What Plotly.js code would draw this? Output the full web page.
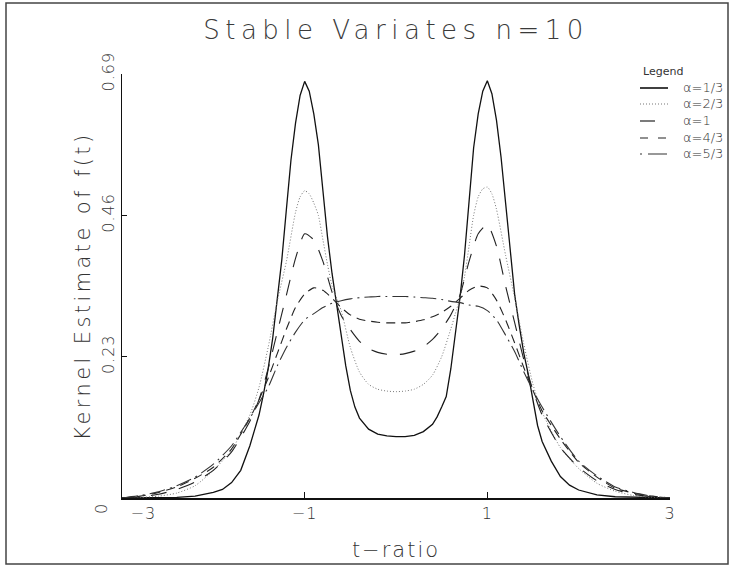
<!DOCTYPE html>
<html>
<head>
<meta charset="utf-8">
<script src="https://cdn.plot.ly/plotly-3.0.1.min.js"></script>
<style>
html,body{margin:0;padding:0;background:#fff;}
#chart{width:731px;height:569px;}
#chart .gtitle{letter-spacing:5.5px;}
#chart .g-ytitle text{letter-spacing:3.4px;}
#chart .g-xtitle text{letter-spacing:2px;}
#chart .xtick text, #chart .ytick text{letter-spacing:1px;}
</style>
</head>
<body>
<div id="chart"></div>
<script>
// ---- data ----
var seriesNames = ["α=1/3", "α=2/3", "α=1", "α=4/3", "α=5/3"];

var tA13 = [-3.0,-2.6,-2.4,-2.2,-2.0,-1.9,-1.8,-1.7,-1.6,-1.55,-1.5,-1.45,-1.4,-1.35,-1.3,-1.25,-1.2,-1.15,-1.1,-1.05,-1.0,-0.95,-0.9,-0.85,-0.8,-0.75,-0.7,-0.65,-0.6,-0.55,-0.5,-0.45,-0.4,-0.3,-0.2,-0.1,0.0,0.1,0.2,0.3,0.4,0.45,0.5,0.55,0.6,0.65,0.7,0.75,0.8,0.85,0.9,0.95,1.0,1.05,1.1,1.15,1.2,1.25,1.3,1.35,1.4,1.45,1.5,1.55,1.6,1.7,1.8,1.9,2.0,2.2,2.4,2.6,3.0];
var vA13 = [0.000,0.000,0.001,0.003,0.009,0.014,0.025,0.045,0.085,0.110,0.135,0.170,0.210,0.260,0.320,0.388,0.470,0.550,0.610,0.655,0.678,0.662,0.625,0.575,0.500,0.425,0.365,0.315,0.262,0.215,0.175,0.148,0.130,0.112,0.104,0.101,0.100,0.100,0.102,0.108,0.120,0.132,0.148,0.165,0.210,0.265,0.325,0.395,0.480,0.570,0.625,0.662,0.679,0.658,0.615,0.555,0.480,0.400,0.330,0.280,0.235,0.200,0.160,0.118,0.092,0.060,0.035,0.021,0.013,0.005,0.002,0.001,0.000];

var tA23 = [-3.0,-2.8,-2.6,-2.4,-2.2,-2.0,-1.8,-1.6,-1.5,-1.4,-1.3,-1.2,-1.1,-1.05,-1.0,-0.95,-0.9,-0.85,-0.8,-0.75,-0.7,-0.65,-0.6,-0.5,-0.4,-0.3,-0.2,-0.1,0.0,0.1,0.2,0.3,0.4,0.5,0.6,0.65,0.7,0.75,0.8,0.85,0.9,0.95,1.0,1.05,1.1,1.2,1.3,1.4,1.5,1.6,1.8,2.0,2.2,2.4,2.6,2.8,3.0];
var vA23 = [0.000,0.001,0.003,0.008,0.020,0.045,0.078,0.135,0.180,0.245,0.320,0.385,0.465,0.490,0.500,0.495,0.480,0.460,0.420,0.380,0.345,0.325,0.305,0.245,0.205,0.185,0.177,0.174,0.173,0.174,0.177,0.185,0.200,0.230,0.275,0.300,0.325,0.360,0.410,0.460,0.490,0.503,0.506,0.495,0.470,0.395,0.325,0.250,0.185,0.140,0.082,0.048,0.024,0.011,0.004,0.001,0.000];

var tA1 = [-3.0,-2.8,-2.6,-2.4,-2.2,-2.0,-1.8,-1.6,-1.5,-1.4,-1.3,-1.2,-1.1,-1.0,-0.9,-0.8,-0.7,-0.6,-0.5,-0.4,-0.3,-0.2,-0.1,0.0,0.1,0.2,0.3,0.4,0.5,0.6,0.7,0.8,0.9,1.0,1.1,1.2,1.3,1.4,1.5,1.6,1.8,2.0,2.2,2.4,2.6,2.8,3.0];
var vA1 = [0.000,0.002,0.006,0.014,0.026,0.045,0.075,0.125,0.160,0.210,0.270,0.330,0.390,0.430,0.420,0.385,0.335,0.297,0.274,0.255,0.243,0.237,0.234,0.233,0.235,0.239,0.246,0.258,0.275,0.298,0.330,0.385,0.430,0.445,0.410,0.345,0.285,0.225,0.175,0.135,0.082,0.050,0.028,0.014,0.006,0.002,0.000];

var tA43 = [-3.0,-2.8,-2.6,-2.4,-2.2,-2.0,-1.8,-1.6,-1.5,-1.4,-1.3,-1.2,-1.1,-1.0,-0.9,-0.8,-0.7,-0.6,-0.5,-0.4,-0.3,-0.2,-0.1,0.0,0.1,0.2,0.3,0.4,0.5,0.6,0.7,0.8,0.9,1.0,1.1,1.2,1.3,1.4,1.5,1.6,1.8,2.0,2.2,2.4,2.6,2.8,3.0];
var vA43 = [0.000,0.003,0.009,0.018,0.032,0.050,0.080,0.130,0.160,0.195,0.235,0.275,0.310,0.332,0.342,0.338,0.325,0.310,0.298,0.291,0.288,0.286,0.285,0.285,0.285,0.287,0.290,0.295,0.302,0.312,0.325,0.338,0.345,0.342,0.322,0.290,0.252,0.212,0.175,0.142,0.096,0.058,0.034,0.016,0.008,0.003,0.000];

var tA53 = [-3.0,-2.8,-2.6,-2.4,-2.2,-2.0,-1.8,-1.6,-1.5,-1.4,-1.3,-1.2,-1.1,-1.0,-0.9,-0.8,-0.7,-0.6,-0.5,-0.4,-0.3,-0.2,-0.1,0.0,0.1,0.2,0.3,0.4,0.5,0.6,0.7,0.8,0.9,1.0,1.1,1.2,1.3,1.4,1.5,1.6,1.8,2.0,2.2,2.4,2.6,2.8,3.0];
var vA53 = [0.000,0.004,0.010,0.020,0.034,0.055,0.085,0.130,0.155,0.180,0.215,0.245,0.270,0.290,0.300,0.310,0.317,0.321,0.324,0.326,0.327,0.328,0.328,0.328,0.328,0.327,0.326,0.325,0.323,0.320,0.318,0.314,0.312,0.305,0.290,0.265,0.238,0.205,0.175,0.148,0.100,0.060,0.036,0.018,0.009,0.003,0.000];

var xTickVals = [-3, -1, 1, 3];
var xTickText = ["\u00a0\u00a0\u00a0\u00a0\u00a0\u00a0\u00a0\u22123", "\u22121", "1", "3"];
var yTickVals = [0.23, 0.46, 0.69];
var yTickText = ["0.23", "0.46", "0.69"];
var yZeroLabel = "0";
var legendTitle = "Legend";

// ---- styling ----
var FONT = "DejaVu Sans, sans-serif";
var ink = "#333";
var xs = [tA13, tA23, tA1, tA43, tA53];
var vs = [vA13, vA23, vA1, vA43, vA53];
var dashes = ["solid", "1px,2px", "16px,13px", "9px,6px", "16px,5px,2px,5px"];
var keyDashes = ["solid", "1px,2px", "15px,20px", "8px,10px", "2px,6px,19px,10px"];
var colors = ["#111", "#777", "#222", "#222", "#333"];
var widths = [1.3, 1, 1.1, 1.1, 1.1];

var traces = seriesNames.map(function (name, i) {
  return {
    x: xs[i], y: vs[i], name: name, type: "scatter", mode: "lines", showlegend: false,
    line: {color: colors[i], width: widths[i], dash: dashes[i], shape: i === 0 ? "linear" : "spline", smoothing: 0.6},
    hoverinfo: "skip"
  };
});

var L = 122, R = 670, T = 74, B = 498, W = 731, H = 569;
function px2x(p) { return (p - L) / (R - L); }
function px2y(p) { return (B - p) / (B - T); }

// legend key (drawn as a panel in the top-right corner)
var keyRows = [87, 103, 120, 137, 153];
var annotations = [
  {text: yZeroLabel, xref: "paper", yref: "paper", x: px2x(101), y: px2y(509),
   xanchor: "center", yanchor: "middle",
   showarrow: false, textangle: -90, font: {family: FONT, size: 16, color: ink, weight: 300}},
  {text: legendTitle, xref: "paper", yref: "paper", x: px2x(641), y: px2y(72),
   xanchor: "left", yanchor: "middle", showarrow: false,
   font: {family: FONT, size: 11, color: ink}}
];
var shapes = [
  {type: "rect", xref: "paper", yref: "paper", x0: px2x(6), x1: px2x(728), y0: px2y(564), y1: px2y(3),
   line: {color: "#444", width: 1.5}, fillcolor: "rgba(0,0,0,0)", layer: "below"}
];
seriesNames.forEach(function (name, i) {
  annotations.push({text: name, xref: "paper", yref: "paper", x: px2x(681), y: px2y(keyRows[i]),
    xanchor: "left", yanchor: "middle", showarrow: false,
    font: {family: FONT, size: 13, color: ink, weight: 300}});
  shapes.push({type: "line", xref: "paper", yref: "paper", x0: px2x(640), x1: px2x(668),
    y0: px2y(keyRows[i] + 1), y1: px2y(keyRows[i] + 1),
    line: {color: colors[i], width: i === 0 ? 1.6 : 1.2, dash: keyDashes[i]}});
});

var layout = {
  width: W, height: H,
  margin: {l: L, r: W - R, t: T, b: H - B, pad: 0},
  paper_bgcolor: "#fff", plot_bgcolor: "#fff",
  font: {family: FONT, color: ink},
  showlegend: false,
  title: {text: "Stable Variates n=10", font: {family: FONT, size: 26, color: "#3a3a3a", weight: 300},
          xref: "paper", x: 0.5, xanchor: "center", yref: "container", y: 1 - 30 / H, yanchor: "middle"},
  xaxis: {
    range: [-3, 3], showgrid: false, zeroline: false,
    showline: true, linecolor: "#111", linewidth: 1.5,
    ticks: "inside", ticklen: 6, tickcolor: "#111", tickwidth: 1,
    tickvals: xTickVals, ticktext: xTickText,
    tickfont: {family: FONT, size: 16, color: ink, weight: 300},
    title: {text: "t\u2212ratio", font: {family: FONT, size: 21, color: ink, weight: 300}, standoff: 20}
  },
  yaxis: {
    range: [0, 0.69], showgrid: false, zeroline: false,
    showline: true, linecolor: "#111", linewidth: 1.5,
    ticks: "inside", ticklen: 5, tickcolor: "#111", tickwidth: 1,
    tickvals: yTickVals, ticktext: yTickText, tickangle: -90,
    tickfont: {family: FONT, size: 16, color: ink, weight: 300},
    title: {text: "Kernel Estimate of f(t)", font: {family: FONT, size: 21, color: ink, weight: 300}, standoff: 2}
  },
  annotations: annotations,
  shapes: shapes
};

Plotly.newPlot("chart", traces, layout, {displayModeBar: false, staticPlot: true});
</script>
</body>
</html>
